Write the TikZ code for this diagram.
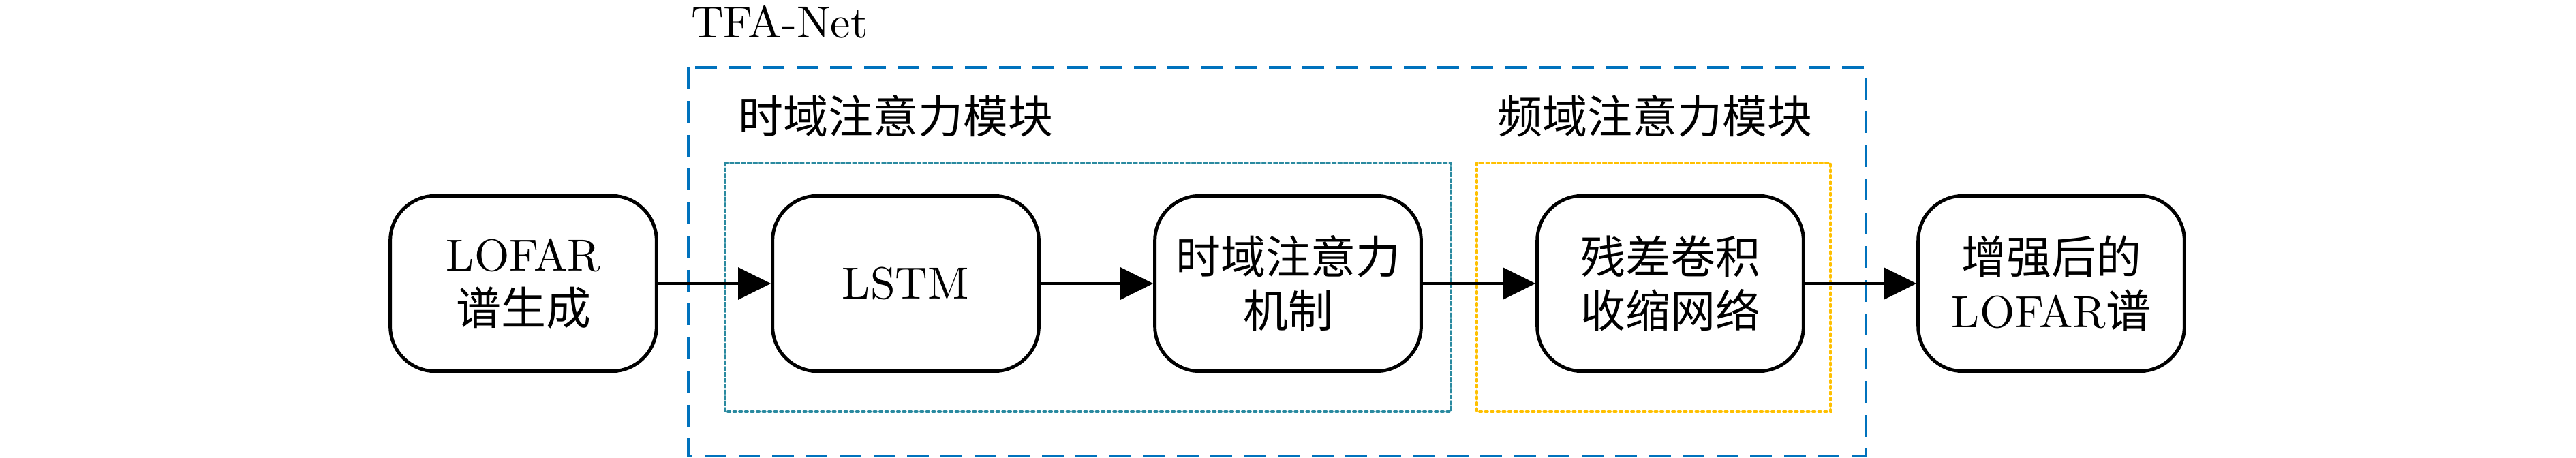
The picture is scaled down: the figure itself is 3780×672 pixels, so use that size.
\documentclass[tikz,border=0pt]{standalone}
\usepackage{fontspec}
\newfontfamily\cjk{Noto Sans CJK SC}
\usetikzlibrary{arrows.meta}
\definecolor{netblue}{RGB}{0,114,189}
\definecolor{tealdot}{RGB}{42,138,160}
\definecolor{yelldot}{RGB}{255,192,0}
\tikzset{
  stepbox/.style={draw=black, line width=0.75pt, rounded corners=10pt,
    minimum width=59.2pt, minimum height=39pt, inner sep=0pt,
    align=center, font=\fontsize{10pt}{12pt}\selectfont},
  arr/.style={line width=0.55pt, -{Triangle[length=7.3pt,width=7.1pt]}},
  lbl/.style={inner sep=0pt, font=\fontsize{10pt}{12pt}\selectfont},
  netbox/.style={draw=netblue, line width=0.65pt, dash pattern=on 4.8pt off 2.7pt},
  tbox/.style={draw=tealdot, line width=0.6pt, line cap=round, dash pattern=on 0.5pt off 0.8pt},
  ybox/.style={draw=yelldot, line width=0.6pt, line cap=round, dash pattern=on 0.5pt off 0.8pt}
}
\begin{document}
\begin{tikzpicture}[x=0.151515pt, y=-0.151515pt]
\useasboundingbox (0,0) rectangle (3780,672);
% group frames
\draw[netbox] (1010,99) rectangle (2738,669);
\draw[tbox] (1064,239) rectangle (2129,604);
\draw[ybox] (2167,239) rectangle (2686,604);
% labels
\node[lbl, anchor=base west] (tfa) at (1013,56) {TFA-Net};
\node[lbl, anchor=west] (tlab) at (1082,170) {\cjk 时域注意力模块};
\node[lbl, anchor=west] (flab) at (2196,170) {\cjk 频域注意力模块};
% nodes
\node[stepbox] (lofar) at (768,416) {LOFAR\\{\cjk 谱生成}};
\node[stepbox] (lstm) at (1329,416) {LSTM};
\node[stepbox] (tatt) at (1890,416) {{\cjk 时域注意力}\\{\cjk 机制}};
\node[stepbox] (res) at (2451,416) {{\cjk 残差卷积}\\{\cjk 收缩网络}};
\node[stepbox] (out) at (3010,416) {{\cjk 增强后的}\\LOFAR{\cjk 谱}};
% connectors
\draw[arr] (lofar) -- (lstm);
\draw[arr] (lstm) -- (tatt);
\draw[arr] (tatt) -- (res);
\draw[arr] (res) -- (out);
\end{tikzpicture}
\end{document}
